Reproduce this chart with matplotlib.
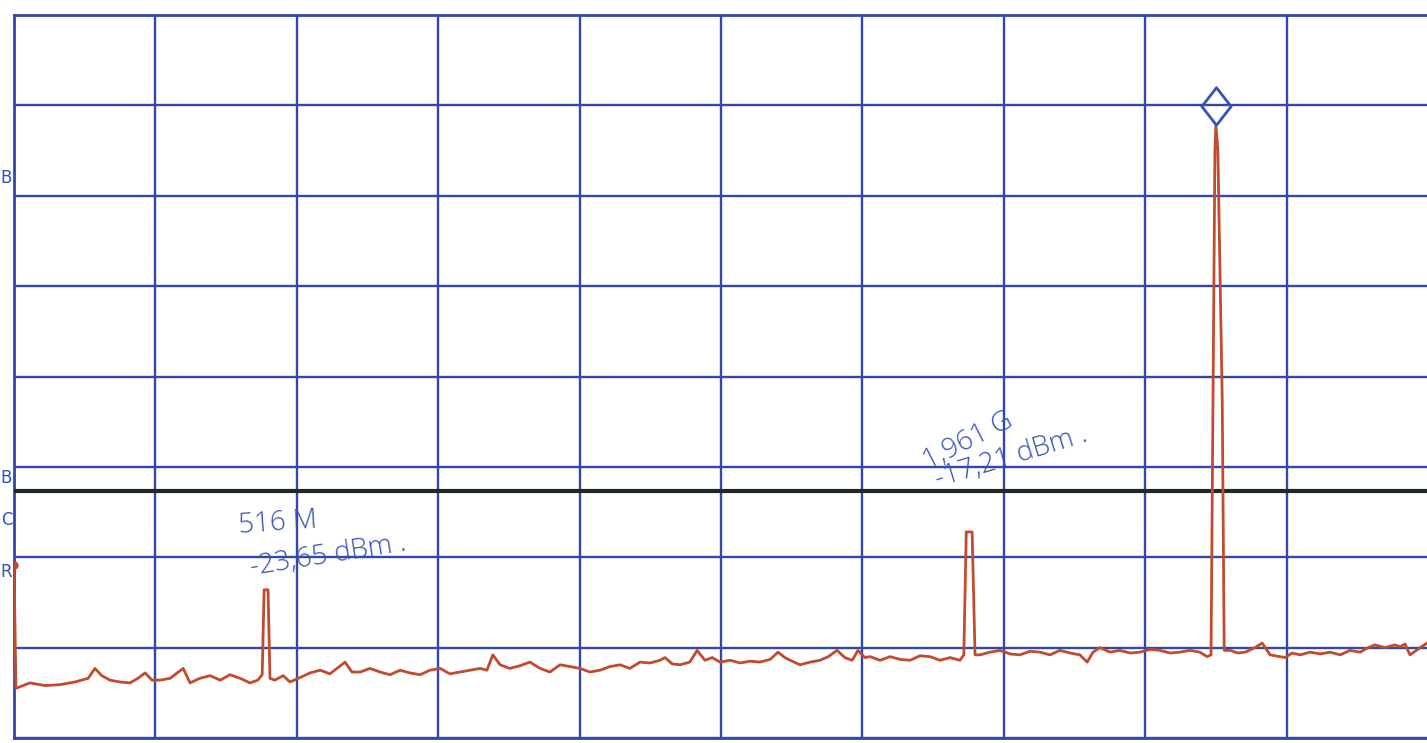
import numpy as np
import matplotlib
matplotlib.use("Agg")
import matplotlib.pyplot as plt
import matplotlib.transforms as mtransforms
from matplotlib.path import Path

freq_mhz = [0, 4, 33, 64, 94, 125, 152, 166, 180, 197, 217, 238, 254, 269, 283, 299, 320, 347, 361,
            381, 402, 423, 443, 464, 484, 500, 509, 513, 521, 525, 535, 552, 566, 587, 607, 628, 648,
            679, 693, 710, 730, 751, 771, 792, 812, 833, 853, 874, 894, 915, 935, 956, 970, 982, 997,
            1017, 1038, 1058, 1079, 1099, 1120, 1140, 1161, 1181, 1202, 1222, 1243, 1263, 1284, 1304,
            1325, 1335, 1350, 1366, 1386, 1401, 1417, 1432, 1448, 1469, 1489, 1510, 1530, 1551, 1567,
            1581, 1592, 1612, 1633, 1653, 1670, 1688, 1704, 1719, 1731, 1745, 1756, 1776, 1797, 1817,
            1838, 1858, 1879, 1899, 1920, 1940, 1948, 1953, 1965, 1971, 1981, 2002, 2022, 2043, 2063,
            2084, 2104, 2125, 2145, 2166, 2186, 2201, 2213, 2227, 2248, 2268, 2289, 2309, 2330, 2350,
            2371, 2391, 2412, 2432, 2447, 2455, 2459, 2463, 2465, 2469, 2478, 2482, 2494, 2510, 2525,
            2545, 2560, 2576, 2607, 2621, 2638, 2658, 2679, 2699, 2720, 2740, 2761, 2777, 2791, 2812,
            2832, 2843, 2853, 2863, 2884, 2898]
level_dbm = [-20.9, -34.5, -33.9, -34.2, -34.1, -33.8, -33.4, -32.3, -33.1, -33.6, -33.8, -33.9, -33.4,
             -32.8, -33.6, -33.6, -33.4, -32.3, -33.9, -33.4, -33.1, -33.6, -33.0, -33.4, -33.9, -33.6,
             -33.0, -23.6, -23.6, -33.4, -33.6, -33.1, -33.8, -33.3, -32.8, -32.5, -32.9, -31.6, -32.7,
             -32.7, -32.3, -32.7, -33.0, -32.5, -32.8, -33.0, -32.5, -32.3, -32.9, -32.7, -32.5, -32.3,
             -32.5, -30.8, -31.9, -32.3, -32.0, -31.6, -32.3, -32.7, -31.9, -32.1, -32.3, -32.7, -32.5,
             -32.1, -31.9, -32.3, -31.6, -31.7, -31.4, -31.1, -31.8, -31.9, -31.6, -30.3, -31.4, -31.1,
             -31.6, -31.4, -31.7, -31.5, -31.6, -31.3, -30.5, -31.1, -31.4, -31.9, -31.6, -31.4, -31.0,
             -30.3, -31.1, -31.4, -30.3, -31.1, -31.0, -31.4, -31.0, -31.3, -31.4, -30.9, -31.0, -31.4,
             -31.1, -31.4, -30.8, -17.2, -17.2, -30.8, -30.8, -30.5, -30.3, -30.7, -30.8, -30.4, -30.5,
             -30.8, -30.3, -30.6, -30.8, -31.6, -30.5, -30.0, -30.5, -30.3, -30.6, -30.5, -30.2, -30.3,
             -30.6, -30.5, -30.3, -30.5, -31.0, -30.8, -2.6, 25.1, 27.8, 25.1, -2.6, -30.3, -30.3,
             -30.6, -30.5, -30.0, -29.5, -30.8, -31.1, -30.6, -30.8, -30.5, -30.7, -30.5, -30.8, -30.3,
             -30.5, -30.0, -29.7, -30.0, -29.7, -29.9, -29.6, -30.8, -30.0, -29.5]

# Marker e linea di riferimento
marker_freq = 2465
marker_dbm = 29.9
display_line_dbm = -12.7

# Note scritte a mano (testo, frequenza, livello, rotazione)
note_texts = ["516 M", "-23,65 dBm .", "1,961 G", "-17,21 dBm ."]
note_freq = [540, 645, 1957, 2045]
note_dbm = [-16.2, -19.8, -7.2, -8.9]
note_rot = [4, 9, 27, 17]

# Lettere a margine
side_letters = ["B", "B", "C", "R"]
side_dbm = [22.0, -11.2, -15.9, -21.6]

f_start, f_stop = 0, 2900
ref_top, ref_bottom = 40, -40

col_grid = '#3048ad'
col_trace = '#c24a2e'
col_line = '#1f2b22'
col_ink = '#3553b8'

fig = plt.figure(figsize=(14.27, 7.43), dpi=100)
ax = fig.add_axes([14 / 1427, 5 / 743, 1414 / 1427, 723 / 743])

ax.set_xlim(f_start, f_stop)
ax.set_ylim(ref_bottom, ref_top)
ax.set_xticks(np.arange(f_start, f_stop, 290))
ax.set_yticks(np.arange(ref_bottom, ref_top + 1, 10))
ax.tick_params(length=0, labelbottom=False, labelleft=False)
ax.grid(True, color=col_grid, lw=1.7)
for s in ax.spines.values():
    s.set_color(col_grid)
    s.set_linewidth(2.0)
ax.spines['right'].set_visible(False)

ax.axhline(display_line_dbm, color=col_line, lw=3.0, zorder=3)
ax.plot(freq_mhz, level_dbm, color=col_trace, lw=2.0, zorder=4)
ax.plot(freq_mhz[0], level_dbm[0], 'o', color=col_trace, ms=5, zorder=5)

diamond = Path([(0, 1), (0.78, 0), (0, -1), (-0.78, 0), (0, 1)],
               [Path.MOVETO, Path.LINETO, Path.LINETO, Path.LINETO, Path.CLOSEPOLY])
ax.plot(marker_freq, marker_dbm, marker=diamond, ms=27, mfc='none', mec=col_ink, mew=2.0,
        zorder=6, clip_on=False)

for txt, fx, fy, rot in zip(note_texts, note_freq, note_dbm, note_rot):
    ax.text(fx, fy, txt, color=col_ink, fontsize=20, rotation=rot, ha='center', va='center',
            family=['Open Sans', 'DejaVu Sans'], fontweight='light', zorder=7)

trans = mtransforms.blended_transform_factory(fig.transFigure, ax.transData)
for let, fy in zip(side_letters, side_dbm):
    fig.text(0.0005, fy, let, transform=trans, color=col_ink, fontsize=12, ha='left', va='center')

fig.savefig('out.png', dpi=100)
